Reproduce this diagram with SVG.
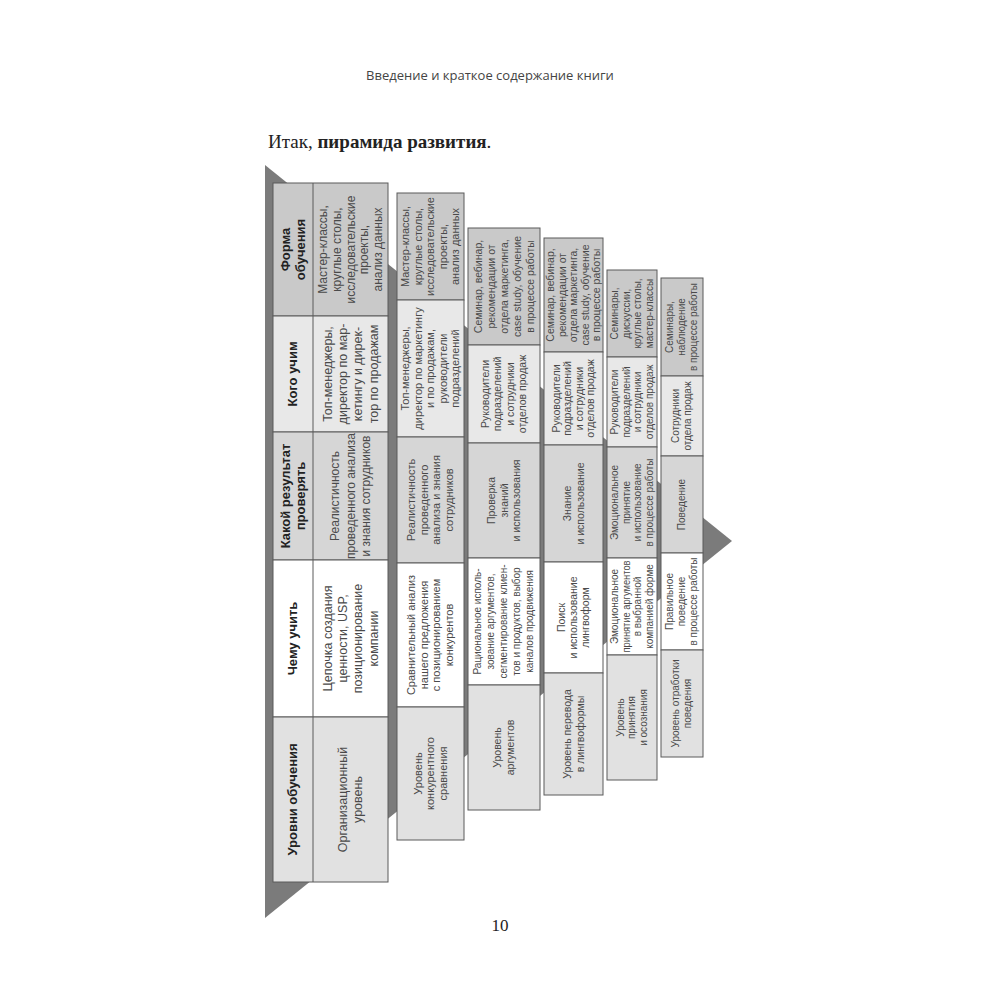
<svg xmlns="http://www.w3.org/2000/svg" width="1000" height="1000" viewBox="0 0 1000 1000">
<style>
.bg{fill:#ffffff}
.tri{fill:#7b7b7b}
.c{stroke:#5a5a5a;stroke-width:1}
.form{fill:#c9c9c9}
.who{fill:#e8e8e8}
.res{fill:#d6d6d6}
.what{fill:#ffffff}
.lvl{fill:#e1e1e1}
.h{font-family:"Liberation Sans",Arial,sans-serif;font-weight:bold;font-size:13px;fill:#222;text-anchor:middle}
.t{font-family:"Liberation Sans",Arial,sans-serif;fill:#4a4a4a;text-anchor:middle}
.t125{font-size:12.5px}
.t12{font-size:12px}
.t11{font-size:11px}
.t105{font-size:10.5px}
.t10{font-size:10px}
.hdr{font-family:"Open Sans","DejaVu Sans",sans-serif;font-size:13px;fill:#444;text-anchor:middle}
.ttl{font-family:"Liberation Serif","Times New Roman",serif;font-size:19px;fill:#222}
.pg{font-family:"Liberation Serif","Times New Roman",serif;font-size:17px;fill:#222;text-anchor:middle}
</style>
<rect class="bg" x="0" y="0" width="1000" height="1000"/>
<text class="hdr" x="490" y="80">Введение и краткое содержание книги</text>
<text class="ttl" x="268" y="148">Итак, <tspan font-weight="bold">пирамида развития</tspan>.</text>
<text class="pg" x="500" y="931">10</text>

<g id="pyramid">
<polygon class="tri" points="265,165 732,541 265,918"/>
</g>

<g id="connectors"></g>

<g id="level-1">
<rect class="c form" x="273" y="183" width="115" height="133"/>
<rect class="c who" x="273" y="316" width="115" height="116"/>
<rect class="c res" x="273" y="432" width="115" height="128"/>
<rect class="c what" x="273" y="560" width="115" height="157"/>
<rect class="c lvl" x="273" y="717" width="115" height="165"/>
<line class="c" x1="313" y1="183" x2="313" y2="882"/>
<g transform="translate(293,249.5) rotate(-90)"><text class="h"><tspan x="0" y="-3.2">Форма</tspan><tspan x="0" y="11.8">обучения</tspan></text></g>
<g transform="translate(293,374) rotate(-90)"><text class="h" x="0" y="4.3">Кого учим</text></g>
<g transform="translate(293,496) rotate(-90)"><text class="h"><tspan x="0" y="-3.2">Какой результат</tspan><tspan x="0" y="11.8">проверять</tspan></text></g>
<g transform="translate(293,638.5) rotate(-90)"><text class="h" x="0" y="4.3">Чему учить</text></g>
<g transform="translate(293,799.5) rotate(-90)"><text class="h" x="0" y="4.3">Уровни обучения</text></g>
<g transform="translate(350.5,249.5) rotate(-90)"><text class="t t12"><tspan x="0" y="-23.6">Мастер-классы,</tspan><tspan x="0" y="-9.8">круглые столы,</tspan><tspan x="0" y="4">исследовательские</tspan><tspan x="0" y="17.8">проекты,</tspan><tspan x="0" y="31.6">анализ данных</tspan></text></g>
<g transform="translate(350.5,374) rotate(-90)"><text class="t t125"><tspan x="0" y="-18.8">Топ-менеджеры,</tspan><tspan x="0" y="-3.5">директор по мар-</tspan><tspan x="0" y="11.8">кетингу и дирек-</tspan><tspan x="0" y="27.1">тор по продажам</tspan></text></g>
<g transform="translate(350.5,496) rotate(-90)"><text class="t t12"><tspan x="0" y="-11.3">Реалистичность</tspan><tspan x="0" y="4">проведенного анализа</tspan><tspan x="0" y="19.3">и знания сотрудников</tspan></text></g>
<g transform="translate(350.5,638.5) rotate(-90)"><text class="t t125"><tspan x="0" y="-18.8">Цепочка создания</tspan><tspan x="0" y="-3.5">ценности, USP,</tspan><tspan x="0" y="11.8">позиционирование</tspan><tspan x="0" y="27.1">компании</tspan></text></g>
<g transform="translate(350.5,799.5) rotate(-90)"><text class="t t125"><tspan x="0" y="-3.5">Организационный</tspan><tspan x="0" y="11.8">уровень</tspan></text></g>
</g>

<g id="level-2">
<rect class="c form" x="397" y="193" width="67" height="107"/>
<rect class="c who" x="397" y="300" width="67" height="137"/>
<rect class="c res" x="397" y="437" width="67" height="126"/>
<rect class="c what" x="397" y="563" width="67" height="144"/>
<rect class="c lvl" x="397" y="707" width="67" height="133"/>
<g transform="translate(430.5,246.5) rotate(-90)"><text class="t t11"><tspan x="0" y="-21.4">Мастер-классы,</tspan><tspan x="0" y="-8.9">круглые столы,</tspan><tspan x="0" y="3.6">исследовательские</tspan><tspan x="0" y="16.1">проекты,</tspan><tspan x="0" y="28.6">анализ данных</tspan></text></g>
<g transform="translate(430.5,368.5) rotate(-90)"><text class="t t11"><tspan x="0" y="-21.4">Топ-менеджеры,</tspan><tspan x="0" y="-8.9">директор по маркетингу</tspan><tspan x="0" y="3.6">и по продажам,</tspan><tspan x="0" y="16.1">руководители</tspan><tspan x="0" y="28.6">подразделений</tspan></text></g>
<g transform="translate(430.5,500) rotate(-90)"><text class="t t11"><tspan x="0" y="-15.15">Реалистичность</tspan><tspan x="0" y="-2.65">проведенного</tspan><tspan x="0" y="9.85">анализа и знания</tspan><tspan x="0" y="22.35">сотрудников</tspan></text></g>
<g transform="translate(430.5,635) rotate(-90)"><text class="t t11"><tspan x="0" y="-15.15">Сравнительный анализ</tspan><tspan x="0" y="-2.65">нашего предложения</tspan><tspan x="0" y="9.85">с позиционированием</tspan><tspan x="0" y="22.35">конкурентов</tspan></text></g>
<g transform="translate(430.5,773.5) rotate(-90)"><text class="t t11"><tspan x="0" y="-8.9">Уровень</tspan><tspan x="0" y="3.6">конкурентного</tspan><tspan x="0" y="16.1">сравнения</tspan></text></g>
</g>

<g id="level-3">
<rect class="c form" x="468" y="228" width="72" height="117"/>
<rect class="c who" x="468" y="345" width="72" height="98"/>
<rect class="c res" x="468" y="443" width="72" height="115"/>
<rect class="c what" x="468" y="558" width="72" height="127"/>
<rect class="c lvl" x="468" y="685" width="72" height="125"/>
<g transform="translate(504,286.5) rotate(-90)"><text class="t t105"><tspan x="0" y="-22.5">Семинар, вебинар,</tspan><tspan x="0" y="-9.5">рекомендации от</tspan><tspan x="0" y="3.5">отдела маркетинга,</tspan><tspan x="0" y="16.5">case study, обучение</tspan><tspan x="0" y="29.5">в процессе работы</tspan></text></g>
<g transform="translate(504,394) rotate(-90)"><text class="t t105"><tspan x="0" y="-15.25">Руководители</tspan><tspan x="0" y="-2.75">подразделений</tspan><tspan x="0" y="9.75">и сотрудники</tspan><tspan x="0" y="22.25">отделов продаж</tspan></text></g>
<g transform="translate(504,500.5) rotate(-90)"><text class="t t105"><tspan x="0" y="-9">Проверка</tspan><tspan x="0" y="3.5">знаний</tspan><tspan x="0" y="16">и использования</tspan></text></g>
<g transform="translate(504,621.5) rotate(-90)"><text class="t t10"><tspan x="0" y="-22.7">Рациональное исполь-</tspan><tspan x="0" y="-9.7">зование аргументов,</tspan><tspan x="0" y="3.3">сегментирование клиен-</tspan><tspan x="0" y="16.3">тов и продуктов, выбор</tspan><tspan x="0" y="29.3">каналов продвижения</tspan></text></g>
<g transform="translate(504,747.5) rotate(-90)"><text class="t t105"><tspan x="0" y="-2.75">Уровень</tspan><tspan x="0" y="9.75">аргументов</tspan></text></g>
</g>

<g id="level-4">
<rect class="c form" x="544" y="238" width="59" height="114"/>
<rect class="c who" x="544" y="352" width="59" height="93"/>
<rect class="c res" x="544" y="445" width="59" height="117"/>
<rect class="c what" x="544" y="562" width="59" height="111"/>
<rect class="c lvl" x="544" y="673" width="59" height="122"/>
<g transform="translate(573.5,295) rotate(-90)"><text class="t t105"><tspan x="0" y="-19.5">Семинар, вебинар,</tspan><tspan x="0" y="-8">рекомендации от</tspan><tspan x="0" y="3.5">отдела маркетинга,</tspan><tspan x="0" y="15">case study, обучение</tspan><tspan x="0" y="26.5">в процессе работы</tspan></text></g>
<g transform="translate(573.5,398.5) rotate(-90)"><text class="t t105"><tspan x="0" y="-13.75">Руководители</tspan><tspan x="0" y="-2.25">подразделений</tspan><tspan x="0" y="9.25">и сотрудники</tspan><tspan x="0" y="20.75">отделов продаж</tspan></text></g>
<g transform="translate(573.5,503.5) rotate(-90)"><text class="t t105"><tspan x="0" y="-3">Знание</tspan><tspan x="0" y="10">и использование</tspan></text></g>
<g transform="translate(573.5,617.5) rotate(-90)"><text class="t t105"><tspan x="0" y="-8.5">Поиск</tspan><tspan x="0" y="3.5">и использование</tspan><tspan x="0" y="15.5">лингвоформ</tspan></text></g>
<g transform="translate(573.5,734) rotate(-90)"><text class="t t105"><tspan x="0" y="-3">Уровень перевода</tspan><tspan x="0" y="10">в лингвоформы</tspan></text></g>
</g>

<g id="level-5">
<rect class="c form" x="607" y="270" width="50" height="87"/>
<rect class="c who" x="607" y="357" width="50" height="90"/>
<rect class="c res" x="607" y="447" width="50" height="111"/>
<rect class="c what" x="607" y="558" width="50" height="97"/>
<rect class="c lvl" x="607" y="655" width="50" height="125"/>
<g transform="translate(632,313.5) rotate(-90)"><text class="t t10"><tspan x="0" y="-13.95">Семинары,</tspan><tspan x="0" y="-2.45">дискуссии,</tspan><tspan x="0" y="9.05">круглые столы,</tspan><tspan x="0" y="20.55">мастер-классы</tspan></text></g>
<g transform="translate(632,402) rotate(-90)"><text class="t t10"><tspan x="0" y="-13.95">Руководители</tspan><tspan x="0" y="-2.45">подразделений</tspan><tspan x="0" y="9.05">и сотрудники</tspan><tspan x="0" y="20.55">отделов продаж</tspan></text></g>
<g transform="translate(632,502.5) rotate(-90)"><text class="t t10"><tspan x="0" y="-13.95">Эмоциональное</tspan><tspan x="0" y="-2.45">принятие</tspan><tspan x="0" y="9.05">и использование</tspan><tspan x="0" y="20.55">в процессе работы</tspan></text></g>
<g transform="translate(632,606.5) rotate(-90)"><text class="t t10"><tspan x="0" y="-13.95">Эмоциональное</tspan><tspan x="0" y="-2.45" textLength="92" lengthAdjust="spacingAndGlyphs">принятие аргументов</tspan><tspan x="0" y="9.05">в выбранной</tspan><tspan x="0" y="20.55">компанией форме</tspan></text></g>
<g transform="translate(632,717.5) rotate(-90)"><text class="t t10"><tspan x="0" y="-8.2">Уровень</tspan><tspan x="0" y="3.3">принятия</tspan><tspan x="0" y="14.8">и осознания</tspan></text></g>
</g>

<g id="level-6">
<rect class="c form" x="661" y="278" width="42" height="98"/>
<rect class="c who" x="661" y="376" width="42" height="80"/>
<rect class="c res" x="661" y="456" width="42" height="97"/>
<rect class="c what" x="661" y="553" width="42" height="97"/>
<rect class="c lvl" x="661" y="650" width="42" height="107"/>
<g transform="translate(682,327) rotate(-90)"><text class="t t10"><tspan x="0" y="-8.7">Семинары,</tspan><tspan x="0" y="3.3">наблюдение</tspan><tspan x="0" y="15.3">в процессе работы</tspan></text></g>
<g transform="translate(682,416) rotate(-90)"><text class="t t10"><tspan x="0" y="-2.7">Сотрудники</tspan><tspan x="0" y="9.3">отдела продаж</tspan></text></g>
<g transform="translate(682,504.5) rotate(-90)"><text class="t t10" x="0" y="3.3">Поведение</text></g>
<g transform="translate(682,601.5) rotate(-90)"><text class="t t10"><tspan x="0" y="-8.7">Правильное</tspan><tspan x="0" y="3.3">поведение</tspan><tspan x="0" y="15.3">в процессе работы</tspan></text></g>
<g transform="translate(682,703.5) rotate(-90)"><text class="t t10"><tspan x="0" y="-2.7">Уровень отработки</tspan><tspan x="0" y="9.3">поведения</tspan></text></g>
</g>
</svg>
